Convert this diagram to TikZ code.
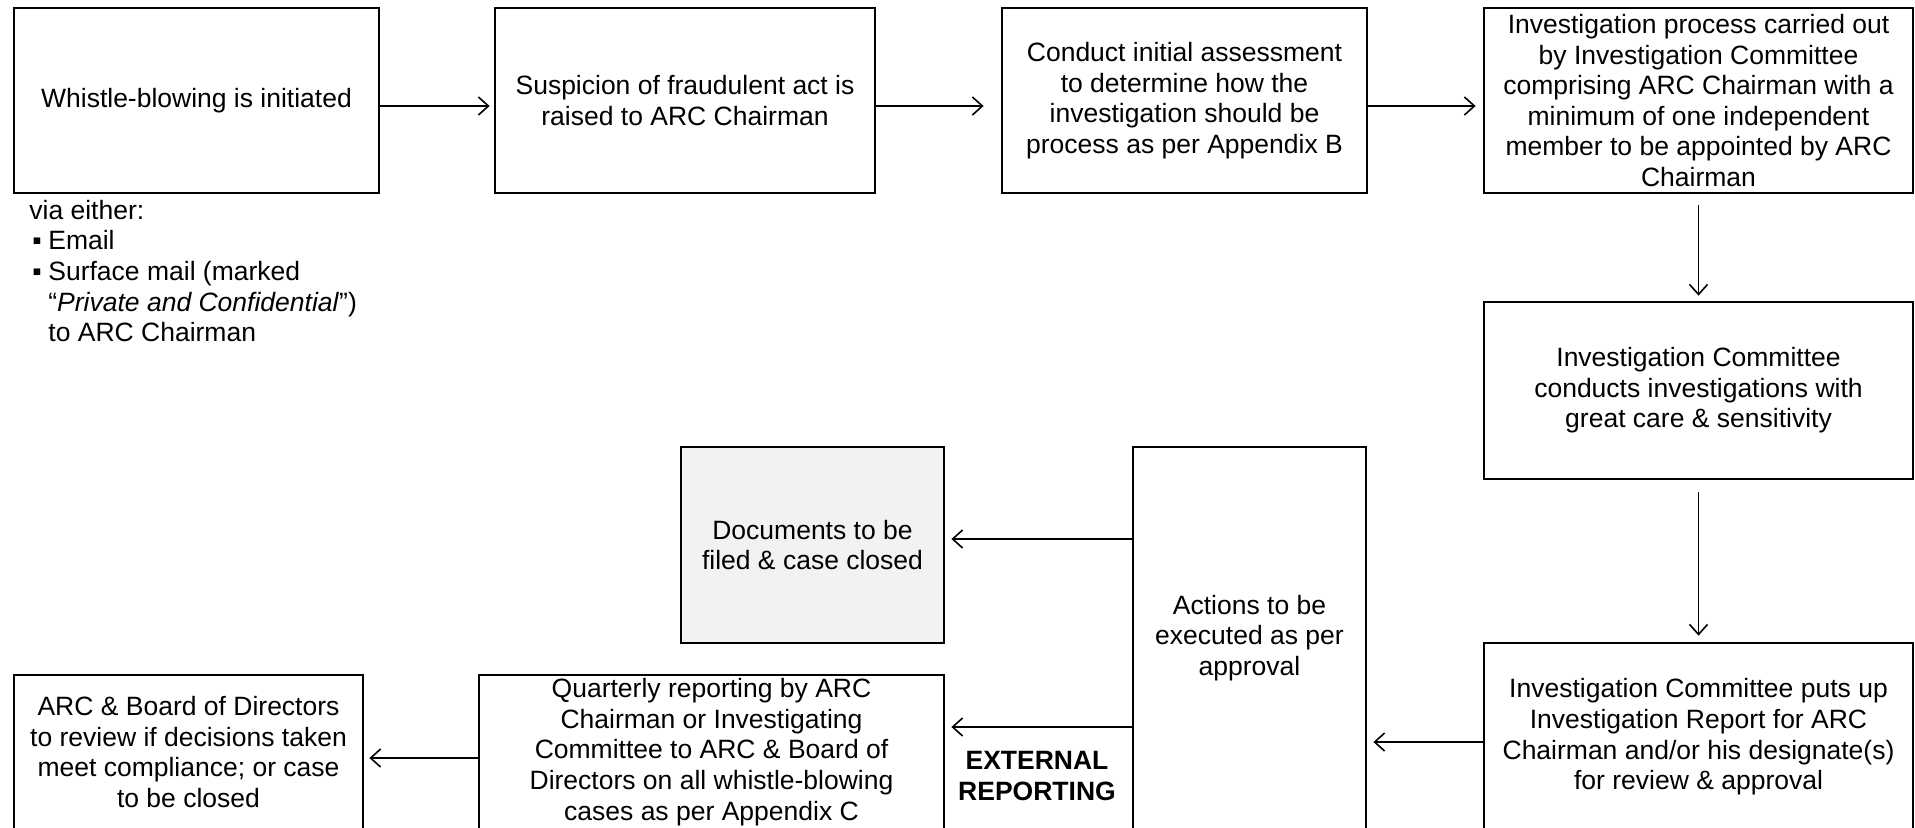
\documentclass[tikz,border=0pt]{standalone}
\usepackage{fontspec}
\setmainfont{Liberation Sans}
\usepackage{tikz}
\usetikzlibrary{positioning,arrows.meta,calc}
\newcommand{\boxfont}{\fontsize{13.25pt}{15.3pt}\selectfont}
\tikzstyle{mybox}=[draw,line width=1.4pt,align=center,inner sep=0pt,font=\boxfont]
\tikzstyle{myarrow}=[line width=0.8pt,>={Straight Barb[length=5pt,width=9pt]},every edge/.append style={->}]

\begin{document}
\begin{tikzpicture}[x=0.5pt,y=-0.5pt]
\useasboundingbox (0,0) rectangle (1915,827);
  % top row
  \node(whistle)[mybox,minimum width=182.5pt,minimum height=92.5pt] at (196.5,100.5)
    {Whistle-blowing is initiated};
  \node(suspicion)[mybox,minimum width=190pt,minimum height=92.5pt] at (685,100.5)
    {Suspicion of fraudulent act is\\raised to ARC Chairman};
  \node(assess)[mybox,minimum width=182.5pt,minimum height=92.5pt] at (1184.5,100.5)
    {Conduct initial assessment\\to determine how the\\investigation should be\\process as per Appendix B};
  \node(process)[mybox,minimum width=214.5pt,minimum height=92.5pt] at (1698.5,100.5)
    {Investigation process carried out\\by Investigation Committee\\comprising ARC Chairman with a\\minimum of one independent\\member to be appointed by ARC\\Chairman};
  \node(via)[anchor=west,align=left,inner sep=0pt,font=\boxfont] at (29,271)
    {via either:\\
     \hspace*{1.5pt}\makebox[8pt][l]{▪}Email\\
     \hspace*{1.5pt}\makebox[8pt][l]{▪}Surface mail (marked\\
     \hspace*{9.5pt}“\textit{Private and Confidential}”)\\
     \hspace*{9.5pt}to ARC Chairman};
  % right column
  \node(conducts)[mybox,minimum width=214.5pt,minimum height=88.5pt] at (1698.5,390.5)
    {Investigation Committee\\conducts investigations with\\great care \& sensitivity};
  \node(report)[mybox,minimum width=214.5pt,minimum height=94pt] at (1698.5,737)
    {Investigation Committee puts up\\Investigation Report for ARC\\Chairman and/or his designate(s)\\for review \& approval};
  % lower part
  \node(actions)[mybox,minimum width=116.5pt,minimum height=191pt] at (1249.5,638)
    {Actions to be\\executed as per\\approval};
  \node(docs)[mybox,fill={rgb,255:red,242;green,242;blue,242},minimum width=131.5pt,minimum height=98pt] at (812.5,545)
    {Documents to be\\filed \& case closed};
  \node(quarterly)[mybox,minimum width=232.5pt,minimum height=77pt] at (711.5,752)
    {Quarterly reporting by ARC\\Chairman or Investigating\\Committee to ARC \& Board of\\Directors on all whistle-blowing\\cases as per Appendix C};
  \node(review)[mybox,minimum width=174.5pt,minimum height=77pt] at (188.5,752)
    {ARC \& Board of Directors\\to review if decisions taken\\meet compliance; or case\\to be closed};
  \node(external)[align=center,inner sep=0pt,font=\boxfont\bfseries] at (1037,776)
    {EXTERNAL\\REPORTING};
  \path[myarrow]
    ([yshift=-2.75pt]whistle.east) edge[shorten >=2pt] ([yshift=-2.75pt]suspicion.west)
    ([yshift=-2.75pt]suspicion.east) edge[shorten >=8.5pt] ([yshift=-2.75pt]assess.west)
    ([yshift=-2.75pt]assess.east) edge[shorten >=3.5pt] ([yshift=-2.75pt]process.west)
    (process.south) edge[shorten <=5.5pt,shorten >=2.5pt] (conducts.north)
    (conducts.south) edge[shorten <=6pt,shorten >=3pt] (report.north)
    ([yshift=-2.5pt]report.west) edge[shorten >=3pt] ([yshift=-2.5pt]report.west -| actions.east)
    ([yshift=3pt]docs.east -| actions.west) edge[shorten >=3pt] ([yshift=3pt]docs.east)
    ([yshift=12.5pt]quarterly.east -| actions.west) edge[shorten >=3pt] ([yshift=12.5pt]quarterly.east)
    ([yshift=-3pt]quarterly.west) edge[shorten >=2.5pt] ([yshift=-3pt]review.east);
\end{tikzpicture}
\end{document}
